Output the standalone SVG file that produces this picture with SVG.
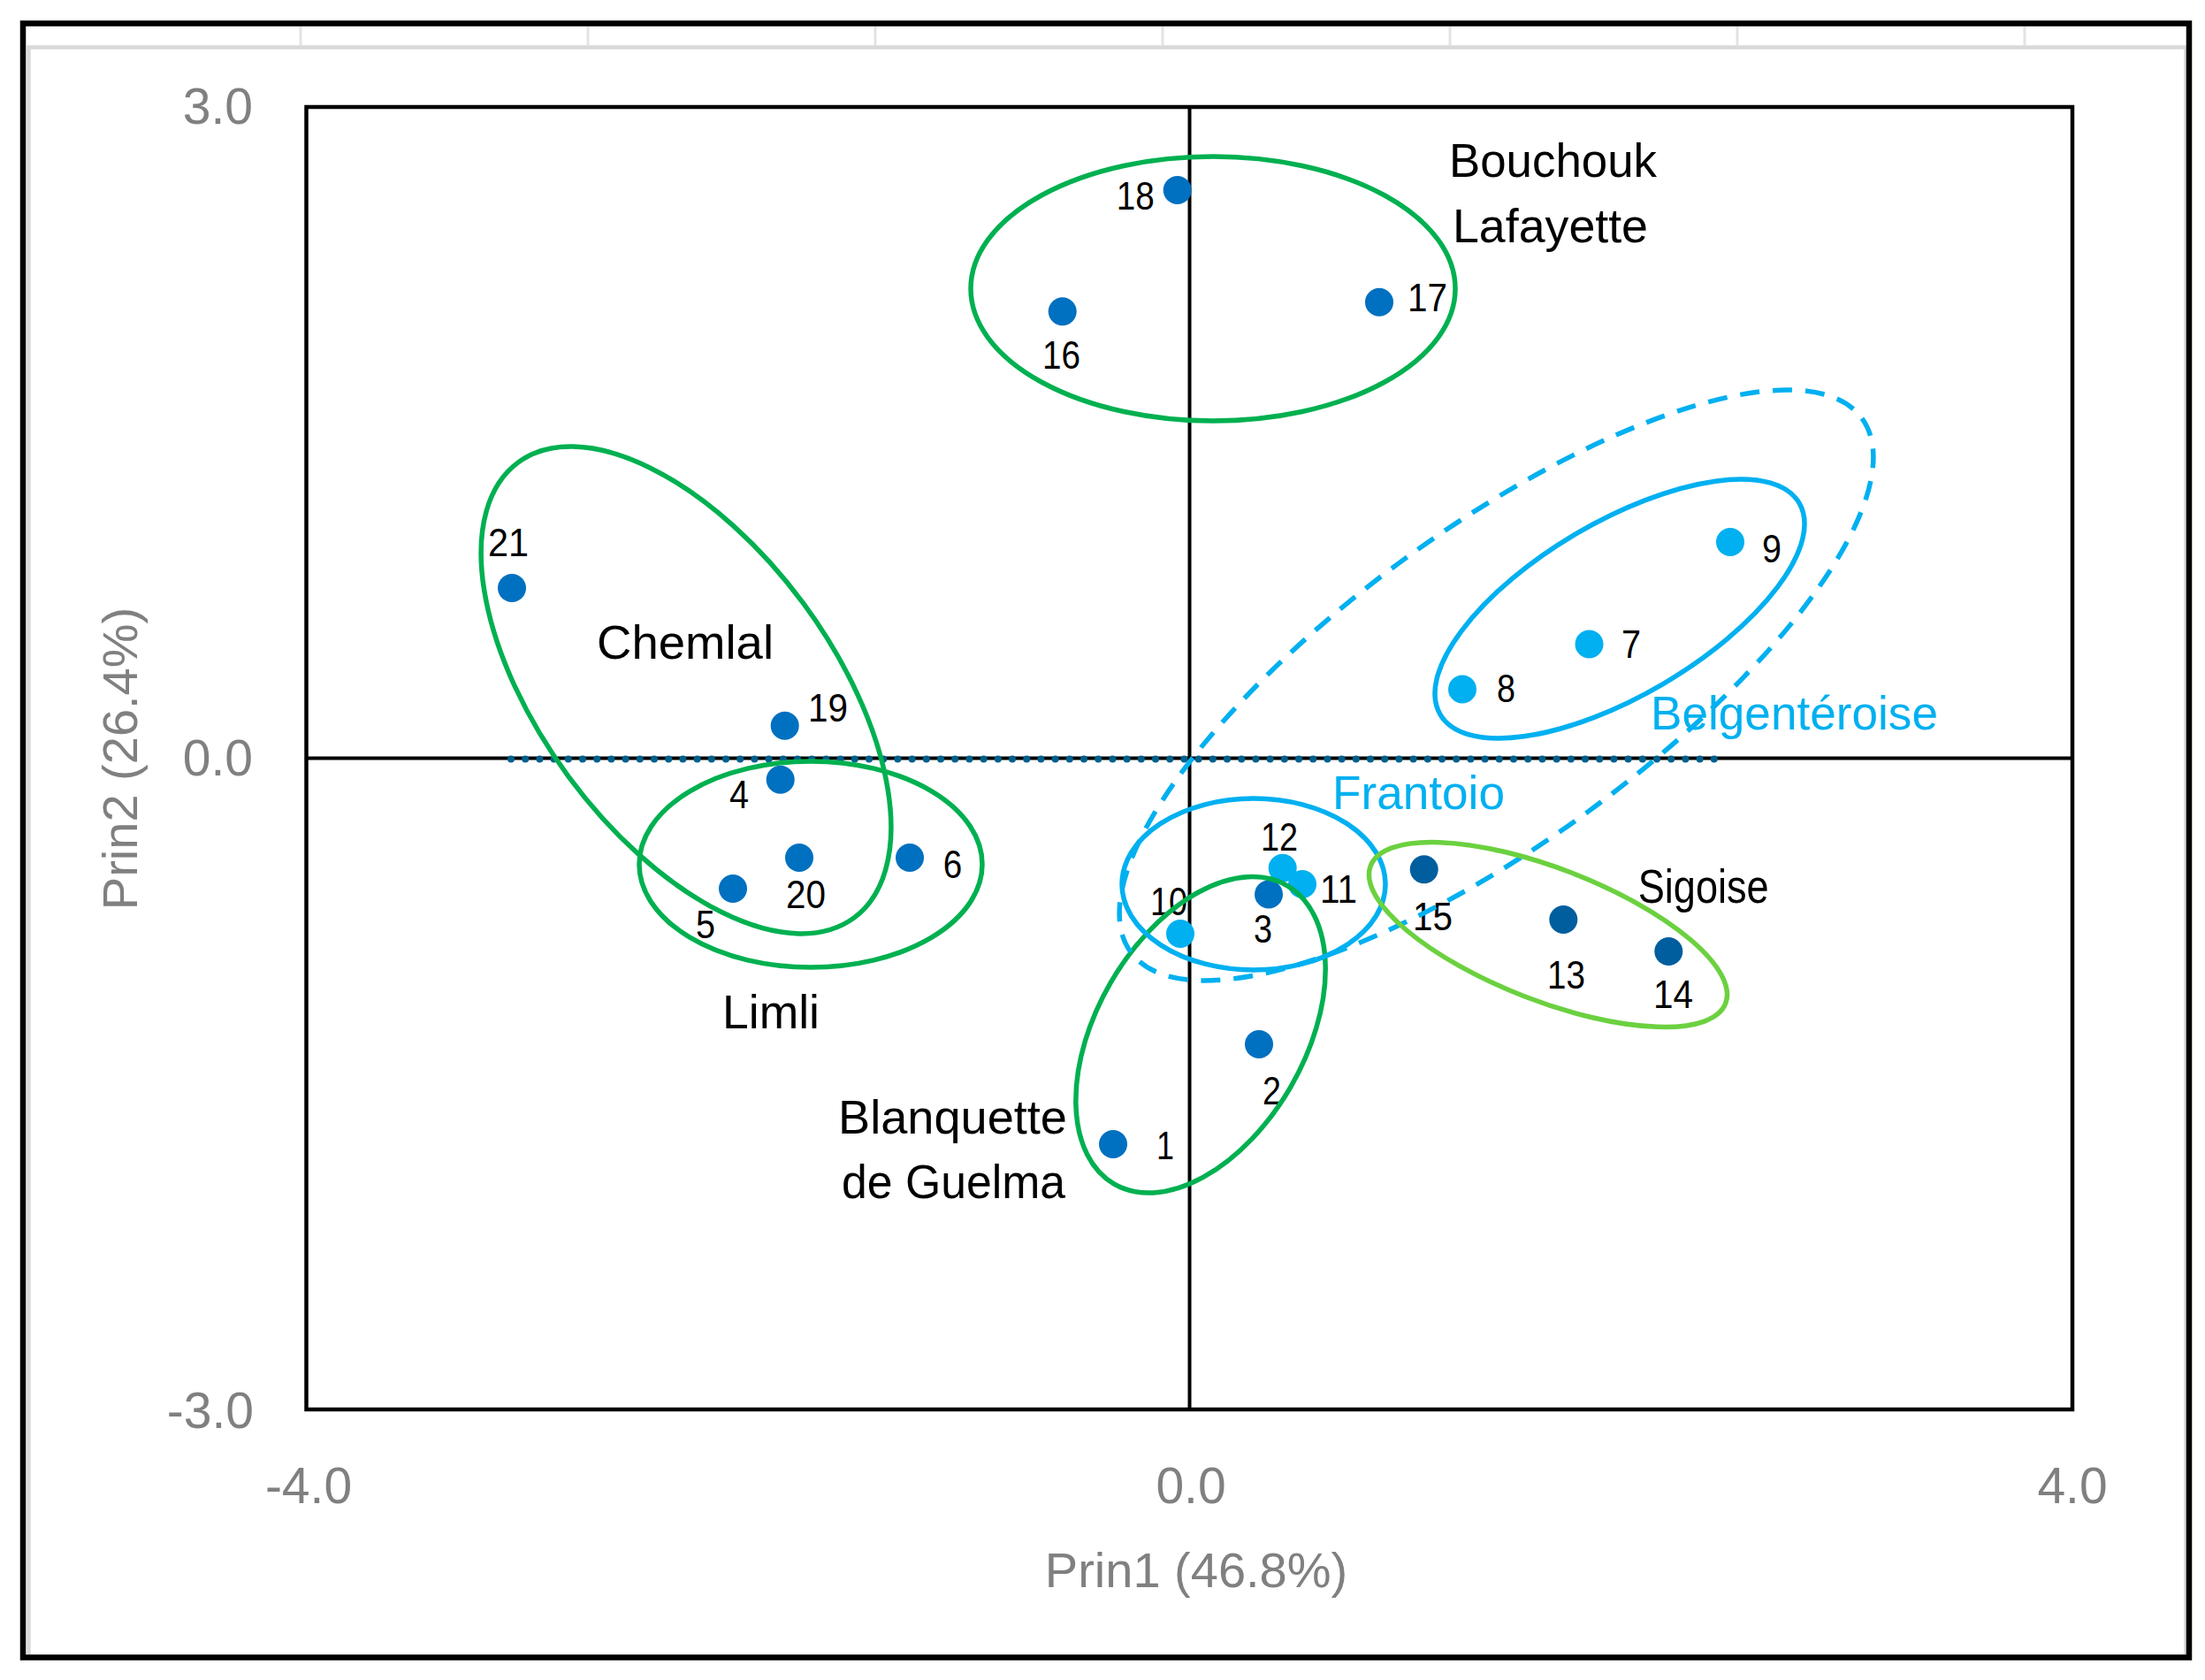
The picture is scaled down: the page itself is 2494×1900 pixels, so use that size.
<svg xmlns="http://www.w3.org/2000/svg" width="2494" height="1900" viewBox="0 0 2494 1900">
<defs>
<style>
text{font-family:"Liberation Sans",Arial,sans-serif}
.tick{font-size:57px;fill:#808080}
.atitle{font-size:56px;fill:#808080}
.num{font-size:44px;fill:#000}
.name{font-size:53px;fill:#000}
.bname{font-size:53px;fill:#00B0F0}
.grid{stroke:#e3e3e3;stroke-width:3}
circle{r:16px}
.pt{fill:#0070C0}
.ptl{fill:#00B0F0}
.ptd{fill:#005E9E}
.eg{fill:none;stroke:#00B050;stroke-width:5.5}
.elg{fill:none;stroke:#6BD140;stroke-width:5.5}
.eb{fill:none;stroke:#00B0F0;stroke-width:5.5}
.ebd{fill:none;stroke:#00B0F0;stroke-width:5.5;stroke-dasharray:22 15}
</style>
</defs>
<rect x="0" y="0" width="2494" height="1900" fill="#fff"/>
<g id="sheet-grid">
<line class="grid" x1="340" y1="29" x2="340" y2="51"/>
<line class="grid" x1="665" y1="29" x2="665" y2="51"/>
<line class="grid" x1="990" y1="29" x2="990" y2="51"/>
<line class="grid" x1="1315" y1="29" x2="1315" y2="51"/>
<line class="grid" x1="1640" y1="29" x2="1640" y2="51"/>
<line class="grid" x1="1965" y1="29" x2="1965" y2="51"/>
<line class="grid" x1="2290" y1="29" x2="2290" y2="51"/>
<rect x="32.5" y="53.5" width="2440" height="1820" fill="none" stroke="#d9d9d9" stroke-width="4.5"/>
</g>
<rect id="outer-frame" x="26" y="26.5" width="2450" height="1848" fill="none" stroke="#000" stroke-width="6.5"/>
<g id="plot-area">
<rect x="346.5" y="121" width="1997.5" height="1473" fill="none" stroke="#000" stroke-width="4.5"/>
<line x1="1345.5" y1="121" x2="1345.5" y2="1594" stroke="#000" stroke-width="4"/>
<line x1="346.5" y1="857.5" x2="2344" y2="857.5" stroke="#000" stroke-width="4"/>
</g>
<g id="axis-labels">
<text class="tick" x="286" y="140" text-anchor="end">3.0</text>
<text class="tick" x="286" y="877" text-anchor="end">0.0</text>
<text class="tick" x="287" y="1615" text-anchor="end">-3.0</text>
<text class="tick" x="349" y="1700" text-anchor="middle">-4.0</text>
<text class="tick" x="1347" y="1700" text-anchor="middle">0.0</text>
<text class="tick" x="2344" y="1700" text-anchor="middle">4.0</text>
<text class="atitle" x="1353" y="1795" text-anchor="middle">Prin1 (46.8%)</text>
<text class="atitle" transform="translate(155,858) rotate(-90)" text-anchor="middle">Prin2 (26.4%)</text>
</g>
<g id="connectors">
<line x1="578" y1="858.5" x2="1945" y2="858.5" stroke="#00608C" stroke-width="8" stroke-linecap="round" stroke-dasharray="0 16.2"/>
</g>
<g id="points">
<g id="p1"><circle class="pt" cx="1259" cy="1294" r="16"/><text class="num" x="1308" y="1311" textLength="20" lengthAdjust="spacingAndGlyphs">1</text></g>
<g id="p2"><circle class="pt" cx="1424" cy="1181" r="16"/><text class="num" x="1428" y="1249" textLength="21" lengthAdjust="spacingAndGlyphs">2</text></g>
<g id="p12"><circle class="ptl" cx="1450.7" cy="981.7" r="16"/><text class="num" x="1426" y="961.7" textLength="42" lengthAdjust="spacingAndGlyphs">12</text></g>
<g id="p11"><circle class="ptl" cx="1473" cy="1000" r="16"/><text class="num" x="1493" y="1020.7" textLength="42" lengthAdjust="spacingAndGlyphs">11</text></g>
<g id="p3"><circle class="pt" cx="1435" cy="1011.5" r="16"/><text class="num" x="1418" y="1066" textLength="21" lengthAdjust="spacingAndGlyphs">3</text></g>
<g id="p4"><circle class="pt" cx="882.7" cy="881.7" r="16"/><text class="num" x="825" y="914" textLength="22" lengthAdjust="spacingAndGlyphs">4</text></g>
<g id="p5"><circle class="pt" cx="829" cy="1005" r="16"/><text class="num" x="787" y="1061" textLength="22" lengthAdjust="spacingAndGlyphs">5</text></g>
<g id="p6"><circle class="pt" cx="1029" cy="970" r="16"/><text class="num" x="1066.7" y="993" textLength="21.5" lengthAdjust="spacingAndGlyphs">6</text></g>
<g id="p7"><circle class="ptl" cx="1797.5" cy="728.5" r="16"/><text class="num" x="1834" y="744" textLength="22" lengthAdjust="spacingAndGlyphs">7</text></g>
<g id="p8"><circle class="ptl" cx="1654" cy="779.5" r="16"/><text class="num" x="1693" y="794" textLength="21" lengthAdjust="spacingAndGlyphs">8</text></g>
<g id="p9"><circle class="ptl" cx="1957" cy="613" r="16"/><text class="num" x="1993" y="636" textLength="22" lengthAdjust="spacingAndGlyphs">9</text></g>
<g id="p10"><circle class="ptl" cx="1335" cy="1056" r="16"/><text class="num" x="1301" y="1035" textLength="42" lengthAdjust="spacingAndGlyphs">10</text></g>
<g id="p13"><circle class="ptd" cx="1768.3" cy="1040" r="16"/><text class="num" x="1750" y="1117.7" textLength="43" lengthAdjust="spacingAndGlyphs">13</text></g>
<g id="p14"><circle class="ptd" cx="1887.3" cy="1076" r="16"/><text class="num" x="1870" y="1140" textLength="45" lengthAdjust="spacingAndGlyphs">14</text></g>
<g id="p15"><circle class="ptd" cx="1610.7" cy="983.3" r="16"/><text class="num" x="1598" y="1051.7" textLength="45" lengthAdjust="spacingAndGlyphs">15</text></g>
<g id="p16"><circle class="pt" cx="1201.7" cy="352.3" r="16"/><text class="num" x="1179" y="416.7" textLength="43" lengthAdjust="spacingAndGlyphs">16</text></g>
<g id="p17"><circle class="pt" cx="1560" cy="341.7" r="16"/><text class="num" x="1592" y="352.3" textLength="45" lengthAdjust="spacingAndGlyphs">17</text></g>
<g id="p18"><circle class="pt" cx="1331.7" cy="215" r="16"/><text class="num" x="1262.7" y="236.7" textLength="43" lengthAdjust="spacingAndGlyphs">18</text></g>
<g id="p19"><circle class="pt" cx="887.7" cy="820.7" r="16"/><text class="num" x="914" y="816" textLength="45" lengthAdjust="spacingAndGlyphs">19</text></g>
<g id="p20"><circle class="pt" cx="904" cy="970" r="16"/><text class="num" x="889" y="1026.7" textLength="45" lengthAdjust="spacingAndGlyphs">20</text></g>
<g id="p21"><circle class="pt" cx="579" cy="665" r="16"/><text class="num" x="552" y="629" textLength="46" lengthAdjust="spacingAndGlyphs">21</text></g>
</g>
<g id="group-labels">
<text class="name" x="1639" y="200" textLength="235" lengthAdjust="spacingAndGlyphs">Bouchouk</text>
<text class="name" x="1643" y="274" textLength="221" lengthAdjust="spacingAndGlyphs">Lafayette</text>
<text class="name" x="675" y="745" textLength="200" lengthAdjust="spacingAndGlyphs">Chemlal</text>
<text class="name" x="817" y="1163" textLength="110" lengthAdjust="spacingAndGlyphs">Limli</text>
<text class="name" x="948" y="1282" textLength="259" lengthAdjust="spacingAndGlyphs">Blanquette</text>
<text class="name" x="952" y="1355" textLength="253" lengthAdjust="spacingAndGlyphs">de Guelma</text>
<text class="name" x="1852.7" y="1021" textLength="148" lengthAdjust="spacingAndGlyphs">Sigoise</text>
<text class="bname" x="1867" y="825" textLength="325" lengthAdjust="spacingAndGlyphs">Belgentéroise</text>
<text class="bname" x="1507" y="915" textLength="195" lengthAdjust="spacingAndGlyphs">Frantoio</text>
</g>
<g id="clusters">
<g id="cluster-bouchouk"><ellipse class="eg" cx="1372" cy="326.5" rx="274" ry="149.5"/></g>
<g id="cluster-chemlal"><ellipse class="eg" cx="776" cy="780.5" rx="320" ry="165" transform="rotate(53.55 776 780.5)"/></g>
<g id="cluster-limli"><ellipse class="eg" cx="917" cy="977.5" rx="194" ry="116.5"/></g>
<g id="cluster-blanquette"><ellipse class="eg" cx="1358" cy="1170.3" rx="195" ry="117.7" transform="rotate(-59.9 1358 1170.3)"/></g>
<g id="cluster-frantoio"><ellipse class="eb" cx="1418" cy="1000" rx="149" ry="97"/></g>
<g id="cluster-belgenteroise-outer"><ellipse class="ebd" cx="1692.5" cy="775" rx="512" ry="176.6" transform="rotate(-36.14 1692.5 775)"/></g>
<g id="cluster-belgenteroise"><ellipse class="eb" cx="1832" cy="688.5" rx="235.6" ry="98.1" transform="rotate(-30.5 1832 688.5)"/></g>
<g id="cluster-sigoise"><ellipse class="elg" cx="1751" cy="1057" rx="215.3" ry="74.8" transform="rotate(21.2 1751 1057)"/></g>
</g>
</svg>
